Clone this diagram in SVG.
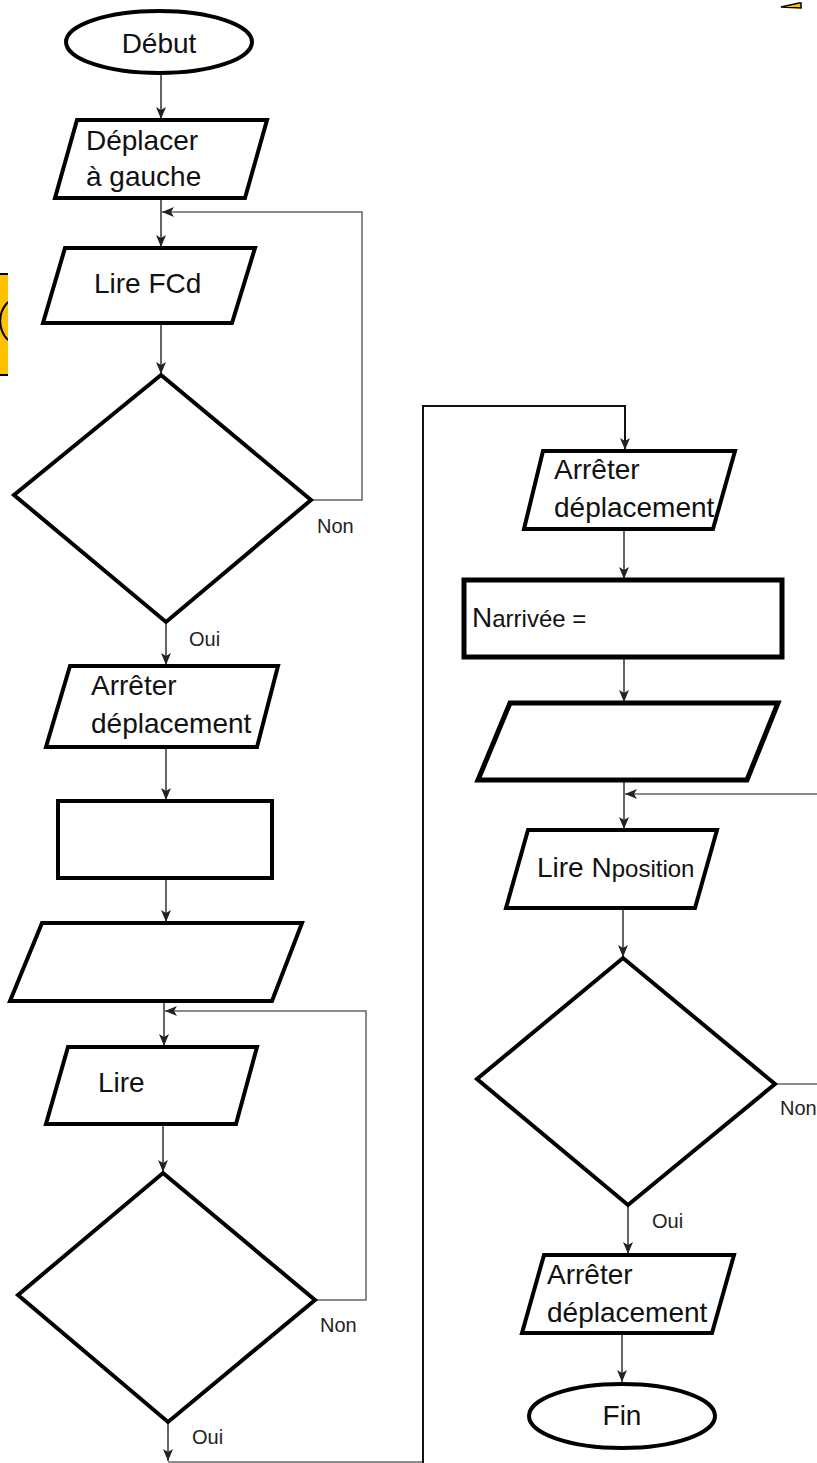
<svg xmlns="http://www.w3.org/2000/svg" width="817" height="1463" viewBox="0 0 817 1463">
<style>
.shape{fill:#fff;stroke:#000;stroke-width:4;stroke-linejoin:miter}
.thick{stroke-width:5}
.lbl{font-family:"Liberation Sans",Arial,sans-serif;font-size:28px;fill:#111}
.sm{font-size:24px}
.yn{font-family:"Liberation Sans",Arial,sans-serif;font-size:20px;fill:#222}
.c{fill:none;stroke:#333;stroke-width:1.5}
.loop{fill:none;stroke:#666;stroke-width:1.5}
.big{fill:none;stroke:#111;stroke-width:2}
</style>
<defs>
<marker id="ah" markerUnits="userSpaceOnUse" viewBox="0 0 12 10" refX="12" refY="5" markerWidth="12" markerHeight="10" orient="auto">
<path d="M0,0 L12,5 L0,10 L3,5 Z" fill="#222"/>
</marker>
<clipPath id="clipL"><rect x="0" y="0" width="8" height="1463"/></clipPath>
</defs>

<g id="decorations">
<g clip-path="url(#clipL)">
<rect x="-20" y="274" width="40" height="101" rx="6" fill="#FFC000" stroke="#000" stroke-width="2"/>
<path d="M8,302 A27,27 0 0 0 8,340" fill="none" stroke="#000" stroke-width="2"/>
</g>
<polygon points="781,7 799,3 801,3 801,8" fill="#FFC000" stroke="#000" stroke-width="1.5"/>
</g>

<g id="connectors">
<line class="c" x1="161" y1="73" x2="161" y2="119" marker-end="url(#ah)"/>
<line class="c" x1="161" y1="198" x2="161" y2="247" marker-end="url(#ah)"/>
<line class="c" x1="161" y1="323" x2="161" y2="374" marker-end="url(#ah)"/>
<polyline class="loop" points="312,500 362,500 362,212 162,212" marker-end="url(#ah)"/>
<line class="c" x1="166" y1="622" x2="166" y2="665" marker-end="url(#ah)"/>
<line class="c" x1="166" y1="747" x2="166" y2="800" marker-end="url(#ah)"/>
<line class="c" x1="166" y1="878" x2="166" y2="922" marker-end="url(#ah)"/>
<line class="c" x1="164" y1="1001" x2="164" y2="1046" marker-end="url(#ah)"/>
<polyline class="loop" points="315,1300 366,1300 366,1011 165,1011" marker-end="url(#ah)"/>
<line class="c" x1="163" y1="1124" x2="163" y2="1172" marker-end="url(#ah)"/>
<line class="c" x1="168" y1="1422" x2="168" y2="1461" marker-end="url(#ah)"/>
<polyline class="loop" points="168,1462 423,1462"/>
<polyline class="big" points="423,1463 423,406 625,406 625,450" marker-end="url(#ah)"/>
<line class="c" x1="624" y1="529" x2="624" y2="579" marker-end="url(#ah)"/>
<line class="c" x1="624" y1="657" x2="624" y2="702" marker-end="url(#ah)"/>
<line class="c" x1="624" y1="780" x2="624" y2="829" marker-end="url(#ah)"/>
<line class="loop" x1="817" y1="794" x2="625" y2="794" marker-end="url(#ah)"/>
<line class="c" x1="623" y1="908" x2="623" y2="957" marker-end="url(#ah)"/>
<line class="loop" x1="775" y1="1084" x2="817" y2="1084"/>
<line class="c" x1="628" y1="1205" x2="628" y2="1254" marker-end="url(#ah)"/>
<line class="c" x1="622" y1="1333" x2="622" y2="1382" marker-end="url(#ah)"/>
<text class="yn" x="317" y="533">Non</text>
<text class="yn" x="189" y="646">Oui</text>
<text class="yn" x="320" y="1332">Non</text>
<text class="yn" x="192" y="1444">Oui</text>
<text class="yn" x="780" y="1115">Non</text>
<text class="yn" x="652" y="1228">Oui</text>
</g>

<g id="debut">
<ellipse class="shape" cx="159" cy="42" rx="93" ry="31" stroke-width="3"/>
<text class="lbl" x="159" y="53" text-anchor="middle">Début</text>
</g>

<g id="deplacer">
<polygon class="shape" points="77,120 267,120 245,198 55,198"/>
<text class="lbl" x="86" y="150">Déplacer</text>
<text class="lbl" x="86" y="186">à gauche</text>
</g>

<g id="lire-fcd">
<polygon class="shape" points="65,248 255,248 232,323 43,323"/>
<text class="lbl" x="94" y="293">Lire FCd</text>
</g>

<g id="decision1">
<polygon class="shape" points="161,375 311,500 166,622 14,495"/>
</g>

<g id="arreter1">
<polygon class="shape" points="70,666 278,666 257,747 46,747"/>
<text class="lbl" x="91" y="695">Arrêter</text>
<text class="lbl" x="91" y="733">déplacement</text>
</g>

<g id="process1">
<rect class="shape" x="58" y="801" width="214" height="77"/>
</g>

<g id="io1">
<polygon class="shape" points="42,923 302,923 272,1001 10,1001"/>
</g>

<g id="lire">
<polygon class="shape" points="68,1047 257,1047 236,1124 46,1124"/>
<text class="lbl" x="98" y="1092">Lire</text>
</g>

<g id="decision2">
<polygon class="shape" points="163,1173 315,1300 168,1422 18,1295"/>
</g>

<g id="arreter2">
<polygon class="shape" points="543,451 735,451 713,529 524,529"/>
<text class="lbl" x="554" y="479">Arrêter</text>
<text class="lbl" x="554" y="517">déplacement</text>
</g>

<g id="narrivee">
<rect class="shape thick" x="464" y="580" width="318" height="77"/>
<text class="lbl" x="472" y="627">N<tspan class="sm">arrivée =</tspan></text>
</g>

<g id="io2">
<polygon class="shape thick" points="510,703 778,703 747,780 478,780"/>
</g>

<g id="lire-nposition">
<polygon class="shape" points="528,830 717,830 695,908 506,908"/>
<text class="lbl" x="537" y="877">Lire N<tspan class="sm">position</tspan></text>
</g>

<g id="decision3">
<polygon class="shape" points="623,958 775,1084 628,1205 477,1079"/>
</g>

<g id="arreter3">
<polygon class="shape" points="544,1255 734,1255 712,1333 522,1333"/>
<text class="lbl" x="547" y="1284">Arrêter</text>
<text class="lbl" x="547" y="1322">déplacement</text>
</g>

<g id="fin">
<ellipse class="shape" cx="622" cy="1416" rx="93" ry="32" stroke-width="3"/>
<text class="lbl" x="622" y="1425" text-anchor="middle">Fin</text>
</g>
</svg>
